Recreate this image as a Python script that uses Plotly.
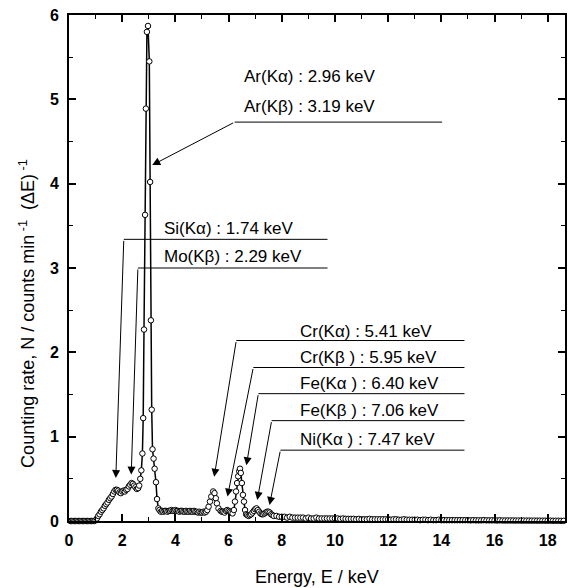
import plotly.graph_objects as go

# ---- data ----
energy = [
    0.05, 0.10, 0.15, 0.20, 0.25, 0.30, 0.35, 0.40, 0.45, 0.50,
    0.55, 0.60, 0.65, 0.70, 0.75, 0.80, 0.85, 0.90, 0.95,
    1.00, 1.05, 1.10, 1.15, 1.20, 1.25, 1.30, 1.35, 1.40, 1.45,
    1.50, 1.55, 1.60, 1.65, 1.70, 1.75, 1.80, 1.85, 1.90, 1.95,
    2.00, 2.05, 2.10, 2.15, 2.20, 2.25, 2.30, 2.35, 2.40, 2.45,
    2.50, 2.55, 2.60, 2.64, 2.68, 2.72, 2.76, 2.79, 2.82, 2.86,
    2.89, 2.93, 2.97, 3.02, 3.05, 3.08, 3.11, 3.14, 3.18, 3.22,
    3.27, 3.31, 3.36,
    3.40, 3.45, 3.50, 3.55, 3.60, 3.65, 3.70, 3.75, 3.80, 3.85,
    3.90, 3.95, 4.00, 4.05, 4.10, 4.15, 4.20, 4.25, 4.30, 4.35,
    4.40, 4.45, 4.50, 4.55, 4.60, 4.65, 4.70, 4.75, 4.80, 4.85,
    4.90, 4.95, 5.00, 5.05, 5.10, 5.15,
    5.20, 5.25, 5.30, 5.35, 5.42, 5.47, 5.52, 5.56, 5.62, 5.70,
    5.75, 5.80, 5.85, 5.90, 5.95, 6.00, 6.05, 6.10, 6.15, 6.20,
    6.24, 6.28, 6.32, 6.36, 6.40, 6.43, 6.46, 6.50, 6.54, 6.58,
    6.62, 6.66, 6.70, 6.75, 6.80, 6.85, 6.90, 6.95, 7.00, 7.05,
    7.10, 7.15, 7.20, 7.25, 7.30, 7.35, 7.40, 7.45, 7.50, 7.55,
    7.60, 7.65,
    7.7, 7.8, 7.9, 8.0, 8.1, 8.2, 8.3, 8.4, 8.5, 8.6,
    8.7, 8.8, 8.9, 9.0, 9.1, 9.2, 9.3, 9.4, 9.5, 9.6,
    9.7, 9.8, 9.9, 10.0, 10.1, 10.2, 10.3, 10.4, 10.5, 10.6,
    10.7, 10.8, 10.9, 11.0, 11.1, 11.2, 11.3, 11.4, 11.5, 11.6,
    11.7, 11.8, 11.9, 12.0, 12.1, 12.2, 12.3, 12.4, 12.5, 12.6,
    12.7, 12.8, 12.9, 13.0, 13.1, 13.2, 13.3, 13.4, 13.5, 13.6,
    13.7, 13.8, 13.9, 14.0, 14.1, 14.2, 14.3, 14.4, 14.5, 14.6,
    14.7, 14.8, 14.9, 15.0, 15.1, 15.2, 15.3, 15.4, 15.5, 15.6,
    15.7, 15.8, 15.9, 16.0, 16.1, 16.2, 16.3, 16.4, 16.5, 16.6,
    16.7, 16.8, 16.9, 17.0, 17.1, 17.2, 17.3, 17.4, 17.5, 17.6,
    17.7, 17.8, 17.9, 18.0, 18.1, 18.2, 18.3, 18.4, 18.5, 18.6,
]

counts = [
    0.00, 0.00, 0.00, 0.00, 0.00, 0.00, 0.00, 0.00, 0.00, 0.00,
    0.00, 0.00, 0.00, 0.00, 0.00, 0.00, 0.00, 0.00, 0.00,
    0.01, 0.03, 0.06, 0.08, 0.11, 0.13, 0.15, 0.18, 0.20, 0.22,
    0.25, 0.27, 0.29, 0.32, 0.35, 0.37, 0.37, 0.36, 0.34, 0.33,
    0.35, 0.36, 0.35, 0.37, 0.38, 0.41, 0.43, 0.45, 0.44, 0.42,
    0.40, 0.38, 0.39, 0.42, 0.50, 0.60, 0.80, 1.22, 2.27, 3.63,
    4.89, 5.80, 5.87, 5.45, 4.02, 2.38, 1.32, 0.85, 0.74, 0.62,
    0.46, 0.26, 0.15,
    0.13, 0.11, 0.12, 0.11, 0.12, 0.12, 0.11, 0.12, 0.12, 0.13,
    0.12, 0.12, 0.13, 0.12, 0.12, 0.11, 0.12, 0.12, 0.11, 0.11,
    0.12, 0.11, 0.11, 0.12, 0.11, 0.11, 0.12, 0.11, 0.11, 0.10,
    0.11, 0.10, 0.10, 0.11, 0.10, 0.11,
    0.13, 0.17, 0.23, 0.29, 0.35, 0.33, 0.27, 0.21, 0.15, 0.12,
    0.11, 0.11, 0.10, 0.12, 0.13, 0.12, 0.11, 0.10, 0.09, 0.13,
    0.23, 0.35, 0.45, 0.53, 0.59, 0.62, 0.57, 0.45, 0.31, 0.23,
    0.13, 0.08, 0.07, 0.06, 0.07, 0.08, 0.10, 0.12, 0.14, 0.15,
    0.13, 0.11, 0.09, 0.08, 0.08, 0.09, 0.10, 0.11, 0.11, 0.10,
    0.08, 0.07,
    0.06, 0.06, 0.05, 0.05, 0.05, 0.04, 0.05, 0.04, 0.04, 0.04,
    0.04, 0.04, 0.03, 0.04, 0.03, 0.03, 0.04, 0.03, 0.03, 0.03,
    0.03, 0.03, 0.03, 0.03, 0.03, 0.025, 0.03, 0.025, 0.025, 0.025,
    0.025, 0.02, 0.025, 0.02, 0.02, 0.02, 0.025, 0.02, 0.02, 0.02,
    0.02, 0.02, 0.02, 0.02, 0.015, 0.02, 0.02, 0.015, 0.015, 0.02,
    0.015, 0.015, 0.015, 0.015, 0.015, 0.01, 0.015, 0.015, 0.01, 0.015,
    0.01, 0.01, 0.015, 0.01, 0.01, 0.01, 0.01, 0.01, 0.01, 0.01,
    0.01, 0.01, 0.01, 0.01, 0.008, 0.01, 0.008, 0.008, 0.008, 0.01,
    0.008, 0.008, 0.008, 0.008, 0.006, 0.008, 0.006, 0.006, 0.006, 0.006,
    0.006, 0.005, 0.006, 0.005, 0.005, 0.005, 0.005, 0.004, 0.005, 0.004,
    0.004, 0.004, 0.004, 0.003, 0.004, 0.003, 0.003, 0.003, 0.002, 0.002,
]

# peak labels: text and position
peak_labels = ["Ar(K\u03b1) : 2.96 keV", "Ar(K\u03b2) : 3.19 keV",
               "Si(K\u03b1) : 1.74 keV", "Mo(K\u03b2) : 2.29 keV",
               "Cr(K\u03b1) : 5.41 keV", "Cr(K\u03b2 ) : 5.95 keV",
               "Fe(K\u03b1 ) : 6.40 keV", "Fe(K\u03b2 ) : 7.06 keV",
               "Ni(K\u03b1 ) : 7.47 keV"]
label_x = [6.52, 6.52, 3.49, 3.49, 8.61, 8.61, 8.61, 8.61, 8.61]
label_y = [5.27, 4.91, 3.47, 3.14, 2.25, 1.94, 1.625, 1.31, 0.97]

# leader lines: corner, right end, arrow tip
leader_corner_x = [6.23, 2.06, 2.59, 6.29, 6.93, 7.12, 7.62, 7.95]
leader_corner_y = [4.73, 3.34, 3.00, 2.14, 1.82, 1.51, 1.19, 0.84]
leader_end_x = [14.03, 9.72, 9.72, 14.87, 14.87, 14.87, 14.87, 14.87]
arrow_tip_x = [3.13, 1.76, 2.34, 5.46, 5.96, 6.67, 7.08, 7.54]
arrow_tip_y = [4.22, 0.51, 0.55, 0.525, 0.29, 0.66, 0.25, 0.19]

x_ticks = [0, 2, 4, 6, 8, 10, 12, 14, 16, 18]
y_ticks = [0, 1, 2, 3, 4, 5, 6]

FONT = "Arial, 'Liberation Sans', sans-serif"

fig = go.Figure()
fig.add_trace(go.Scatter(
    x=energy, y=counts, mode="lines+markers",
    line=dict(color="black", width=1.5),
    marker=dict(symbol="circle", size=5.5, color="white",
                line=dict(color="black", width=1)),
    cliponaxis=False, showlegend=False,
))

annotations = []
for t, lx, ly in zip(peak_labels, label_x, label_y):
    annotations.append(dict(x=lx, y=ly, xref="x", yref="y", text=t,
                            showarrow=False, xanchor="left", yanchor="middle",
                            font=dict(family=FONT, size=17, color="black")))

shapes = []
for cx, cy, ex, tx, ty in zip(leader_corner_x, leader_corner_y, leader_end_x,
                              arrow_tip_x, arrow_tip_y):
    shapes.append(dict(type="line", xref="x", yref="y", x0=cx, y0=cy, x1=ex, y1=cy,
                       line=dict(color="black", width=1)))
    annotations.append(dict(x=tx, y=ty, xref="x", yref="y", ax=cx, ay=cy,
                            axref="x", ayref="y", text="", showarrow=True,
                            arrowhead=2, arrowsize=1.6, arrowwidth=1,
                            arrowcolor="black", standoff=0, startstandoff=0))

# axis titles
annotations.append(dict(x=0.5, y=-0.111, xref="paper", yref="paper",
                        text="Energy, E / keV", showarrow=False,
                        xanchor="center", yanchor="middle",
                        font=dict(family=FONT, size=18, color="black")))
annotations.append(dict(x=-0.084, y=0.41, xref="paper", yref="paper",
                        text="Counting rate, N / counts min<sup> -1</sup>  (\u0394E)<sup> -1</sup>",
                        showarrow=False, textangle=-90,
                        xanchor="center", yanchor="middle",
                        font=dict(family=FONT, size=18, color="black")))

axis_common = dict(showline=True, linewidth=2, linecolor="black", mirror="ticks",
                   ticks="inside", ticklen=7, tickwidth=1.5, tickcolor="black",
                   showgrid=False, zeroline=False,
                   tickfont=dict(family=FONT, size=16, color="black", weight="bold"))

fig.update_layout(
    width=571, height=588,
    margin=dict(l=69, r=4, t=15, b=67),
    paper_bgcolor="white", plot_bgcolor="white",
    xaxis=dict(range=[0, 18.65], tickvals=x_ticks, ticklabelstandoff=4,
               minor=dict(dtick=1, tick0=0, ticks="inside", ticklen=4,
                          tickwidth=1, tickcolor="black"),
               **axis_common),
    yaxis=dict(range=[0, 6], tickvals=y_ticks, ticklabelstandoff=5,
               minor=dict(dtick=0.5, tick0=0, ticks="inside", ticklen=4,
                          tickwidth=1, tickcolor="black"),
               **axis_common),
    annotations=annotations, shapes=shapes,
)

fig.write_html("out.html")
